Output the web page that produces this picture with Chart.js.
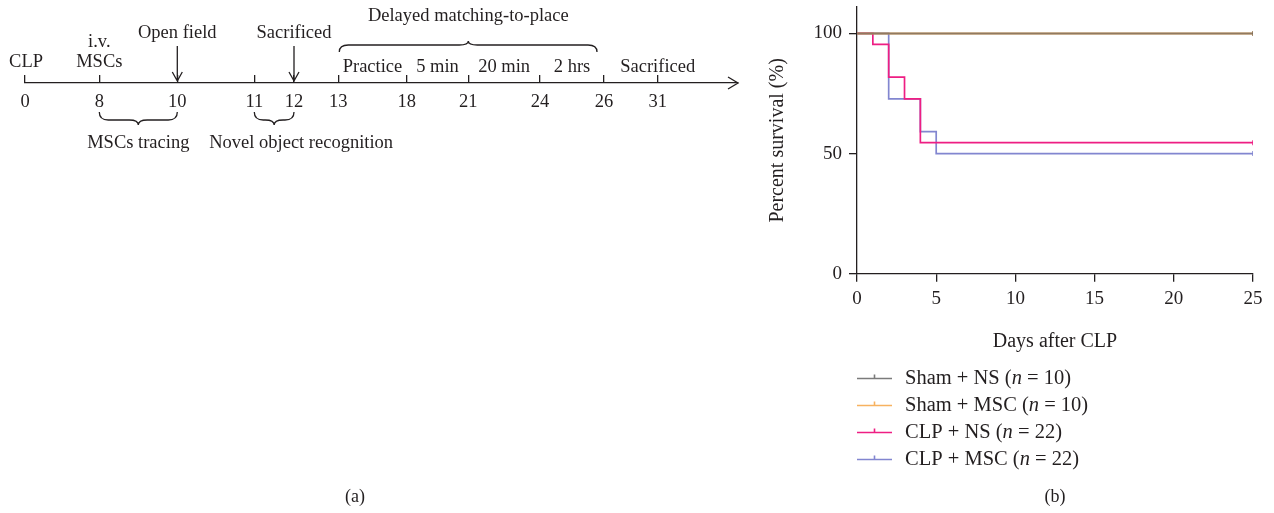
<!DOCTYPE html>
<html>
<head>
<meta charset="utf-8">
<script src="https://cdn.jsdelivr.net/npm/chart.js@4.4.1/dist/chart.umd.min.js"></script>
<style>
  html, body { margin: 0; padding: 0; background: #fff; }
  #wrap { position: relative; width: 1274px; height: 513px; }
  canvas { position: absolute; top: 0; }
  #timeline { left: 0; }
  #survival { left: 760px; }
</style>
</head>
<body>
<div id="wrap">
  <canvas id="timeline" width="760" height="513"></canvas>
  <canvas id="survival" width="514" height="513"></canvas>
</div>
<script>
// ---- (a) experiment timeline ----
const tlDays = [0, 8, 10, 11, 12, 13, 18, 21, 24, 26, 31];
// schematic spacing of the milestones along the time line (not to scale)
const tlSlots = [0, 7.43, 15.23, 22.93, 26.9, 31.33, 38.17, 44.33, 51.5, 57.9, 63.27];
const tlEnd = 71.3;
const arrowEvents = [{ day: 10, text: "Open field" }, { day: 12, text: "Sacrificed" }];
const markerText = [{ day: 0, text: ["CLP"] }, { day: 8, text: ["i.v.", "MSCs"] }, { day: 31, text: ["Sacrificed"] }];
const segments = [
  { from: 13, to: 18, text: "Practice" },
  { from: 18, to: 21, text: "5 min" },
  { from: 21, to: 24, text: "20 min" },
  { from: 24, to: 26, text: "2 hrs" },
];
const topBrace = { from: 13, to: 26, tip: 21, text: "Delayed matching-to-place" };
const lowBraces = [
  { from: 8, to: 10, text: "MSCs tracing" },
  { from: 11, to: 12, text: "Novel object recognition" },
];

// ---- (b) survival curves ----
const seriesNames = ["Sham + NS", "Sham + MSC", "CLP + NS", "CLP + MSC"];
const seriesN = [10, 10, 22, 22];
const seriesDays = [
  [0, 25],
  [0, 25],
  [0, 1, 2, 3, 4, 25],
  [0, 2, 4, 5, 25],
];
const seriesSurvival = [
  [100, 100],
  [100, 100],
  [100, 95.45, 81.82, 72.73, 54.55, 54.55],
  [100, 72.73, 59.09, 50, 50],
];
const yTicks = [0, 50, 100];

const ink = "#231f20";
const serif = '"Liberation Serif", "Times New Roman", serif';
const seriesColors = ["#7b7b7b", "#f7b260", "#ee1e83", "#8286d0"];
const lineColors = ["rgba(105,100,96,0.72)", "#f7b260", "#ee1e83", "#8286d0"];
const lineWidths = [2, 2, 1.7, 1.7];

Chart.defaults.font.family = serif;
Chart.defaults.color = ink;

function brace(ctx, x1, x2, xm, yEnd, yMid, yTip) {
  const r = Math.min(9, (xm - x1) / 2, (x2 - xm) / 2);
  ctx.beginPath();
  ctx.moveTo(x1, yEnd);
  ctx.quadraticCurveTo(x1, yMid, x1 + r, yMid);
  ctx.lineTo(xm - r, yMid);
  ctx.quadraticCurveTo(xm, yMid, xm, yTip);
  ctx.quadraticCurveTo(xm, yMid, xm + r, yMid);
  ctx.lineTo(x2 - r, yMid);
  ctx.quadraticCurveTo(x2, yMid, x2, yEnd);
  ctx.stroke();
}

const timelineDeco = {
  id: "timelineDeco",
  afterDraw(chart) {
    const ctx = chart.ctx;
    const sx = chart.scales.x;
    const px = (d) => sx.getPixelForValue(tlSlots[tlDays.indexOf(d)]);
    const y0 = chart.chartArea.top;
    ctx.save();
    ctx.strokeStyle = ink;
    ctx.fillStyle = ink;
    ctx.lineWidth = 1.3;
    ctx.textAlign = "center";
    ctx.textBaseline = "middle";
    ctx.font = "18.5px " + serif;

    // arrow head at the end of the time line
    ctx.beginPath();
    ctx.moveTo(sx.right - 10, y0 - 6);
    ctx.lineTo(sx.right, y0);
    ctx.lineTo(sx.right - 10, y0 + 6);
    ctx.stroke();

    arrowEvents.forEach((e) => {
      const x = px(e.day);
      ctx.fillText(e.text, x, y0 - 50);
      ctx.beginPath();
      ctx.moveTo(x, y0 - 37);
      ctx.lineTo(x, y0 - 2);
      ctx.moveTo(x - 5, y0 - 11);
      ctx.lineTo(x, y0 - 2);
      ctx.lineTo(x + 5, y0 - 11);
      ctx.stroke();
    });

    markerText.forEach((m) => {
      const x = px(m.day) + (m.day === 0 ? 1 : 0);
      const base = m.day === 31 ? y0 - 16 : y0 - 21;
      m.text.forEach((t, i) => {
        ctx.fillText(t, x, base - (m.text.length - 1 - i) * 20);
      });
    });

    segments.forEach((s) => {
      ctx.fillText(s.text, (px(s.from) + px(s.to)) / 2, y0 - 16);
    });

    brace(ctx, px(topBrace.from) + 1, px(topBrace.to) - 7, px(topBrace.tip), y0 - 31, y0 - 38, y0 - 42);
    ctx.fillText(topBrace.text, px(topBrace.tip), y0 - 67);

    lowBraces.forEach((b, i) => {
      const x1 = px(b.from), x2 = px(b.to), xm = (x1 + x2) / 2;
      brace(ctx, x1, x2, xm, y0 + 29, y0 + 37, y0 + 42);
      ctx.fillText(b.text, xm + (i === 1 ? 27 : 0), y0 + 60);
    });

    ctx.font = "18px " + serif;
    ctx.fillText("(a)", 355, 497);
    ctx.restore();
  },
};

const milestoneTicks = (scale) => {
  scale.ticks = tlSlots.map((v) => ({ value: v }));
};

new Chart(document.getElementById("timeline"), {
  type: "scatter",
  data: {
    datasets: [{
      data: tlSlots.map((s) => ({ x: s, y: 0 })),
      pointRadius: 0,
      showLine: false,
    }],
  },
  options: {
    responsive: false,
    animation: false,
    events: [],
    layout: { padding: { top: 75, right: 22, bottom: 388, left: 25 } },
    plugins: { legend: { display: false }, tooltip: { enabled: false } },
    scales: {
      x: {
        type: "linear",
        position: "top",
        min: 0,
        max: tlEnd,
        afterBuildTicks: milestoneTicks,
        afterFit: (s) => { s.height = 8; },
        border: { display: true, color: ink, width: 1.3 },
        grid: { drawOnChartArea: false, drawTicks: true, tickLength: 8, color: ink, lineWidth: 1.3 },
        ticks: { display: false },
      },
      x2: {
        type: "linear",
        position: "bottom",
        min: 0,
        max: tlEnd,
        afterBuildTicks: milestoneTicks,
        afterFit: (s) => { s.height = 40; s.paddingLeft = 0; s.paddingRight = 0; },
        border: { display: false },
        grid: { display: false },
        ticks: {
          autoSkip: false,
          maxRotation: 0,
          padding: -2,
          color: ink,
          font: { size: 18.5 },
          callback: (v, i) => String(tlDays[i]),
        },
      },
      y: { display: false, min: -1, max: 1 },
    },
  },
  plugins: [timelineDeco],
});

// ---- survival chart ----
const survivalDeco = {
  id: "survivalDeco",
  afterDraw(chart) {
    const ctx = chart.ctx;
    ctx.save();
    ctx.textBaseline = "middle";
    chart.data.datasets.forEach((ds, i) => {
      const y = 378.5 + i * 27;
      ctx.strokeStyle = seriesColors[i];
      ctx.lineWidth = 1.6;
      ctx.beginPath();
      ctx.moveTo(97, y);
      ctx.lineTo(132, y);
      ctx.moveTo(114.5, y);
      ctx.lineTo(114.5, y - 4);
      ctx.stroke();
      ctx.fillStyle = ink;
      let x = 145;
      const parts = [
        [seriesNames[i] + " (", "20.5px " + serif],
        ["n", "italic 20.5px " + serif],
        [" = " + seriesN[i] + ")", "20.5px " + serif],
      ];
      parts.forEach(([t, f]) => {
        ctx.font = f;
        ctx.textAlign = "left";
        ctx.fillText(t, x, y);
        x += ctx.measureText(t).width;
      });
    });
    ctx.font = "18px " + serif;
    ctx.textAlign = "center";
    ctx.fillText("(b)", 295, 497);
    ctx.restore();
  },
};

new Chart(document.getElementById("survival"), {
  type: "line",
  data: {
    datasets: seriesNames.map((name, i) => ({
      label: name + " (n = " + seriesN[i] + ")",
      data: seriesDays[i].map((d, j) => ({ x: d, y: seriesSurvival[i][j] })),
      borderColor: lineColors[i],
      backgroundColor: lineColors[i],
      borderWidth: lineWidths[i],
      stepped: true,
      fill: false,
      pointStyle: "line",
      rotation: 90,
      pointBorderWidth: 1.5,
      pointRadius: (c) => (c.dataIndex === seriesDays[i].length - 1 ? 2.5 : 0),
    })),
  },
  options: {
    responsive: false,
    animation: false,
    events: [],
    layout: { padding: { top: 7, right: 21, bottom: 155.5, left: 0 } },
    plugins: { legend: { display: false }, tooltip: { enabled: false } },
    scales: {
      x: {
        type: "linear",
        min: 0,
        max: 25,
        afterFit: (s) => { s.paddingLeft = 0; s.paddingRight = 0; },
        border: { color: ink, width: 1.3 },
        grid: { drawOnChartArea: false, tickLength: 8, color: ink, lineWidth: 1.3 },
        ticks: { stepSize: 5, padding: 6, maxRotation: 0, color: ink, font: { size: 19 } },
        title: { display: true, text: "Days after CLP", color: ink, font: { size: 20 }, padding: { top: 13, bottom: 4 } },
      },
      y: {
        min: 0,
        max: 111,
        afterBuildTicks: (s) => { s.ticks = yTicks.map((v) => ({ value: v })); },
        afterFit: (s) => { s.width = 97; s.paddingTop = 0; s.paddingBottom = 0; },
        border: { color: ink, width: 1.3 },
        grid: { drawOnChartArea: false, tickLength: 8, color: ink, lineWidth: 1.3 },
        ticks: { padding: 7, color: ink, font: { size: 19 } },
        title: { display: true, text: "Percent survival (%)", color: ink, font: { size: 20 }, padding: { top: 6, bottom: 0 } },
      },
    },
  },
  plugins: [survivalDeco],
});
</script>
</body>
</html>
